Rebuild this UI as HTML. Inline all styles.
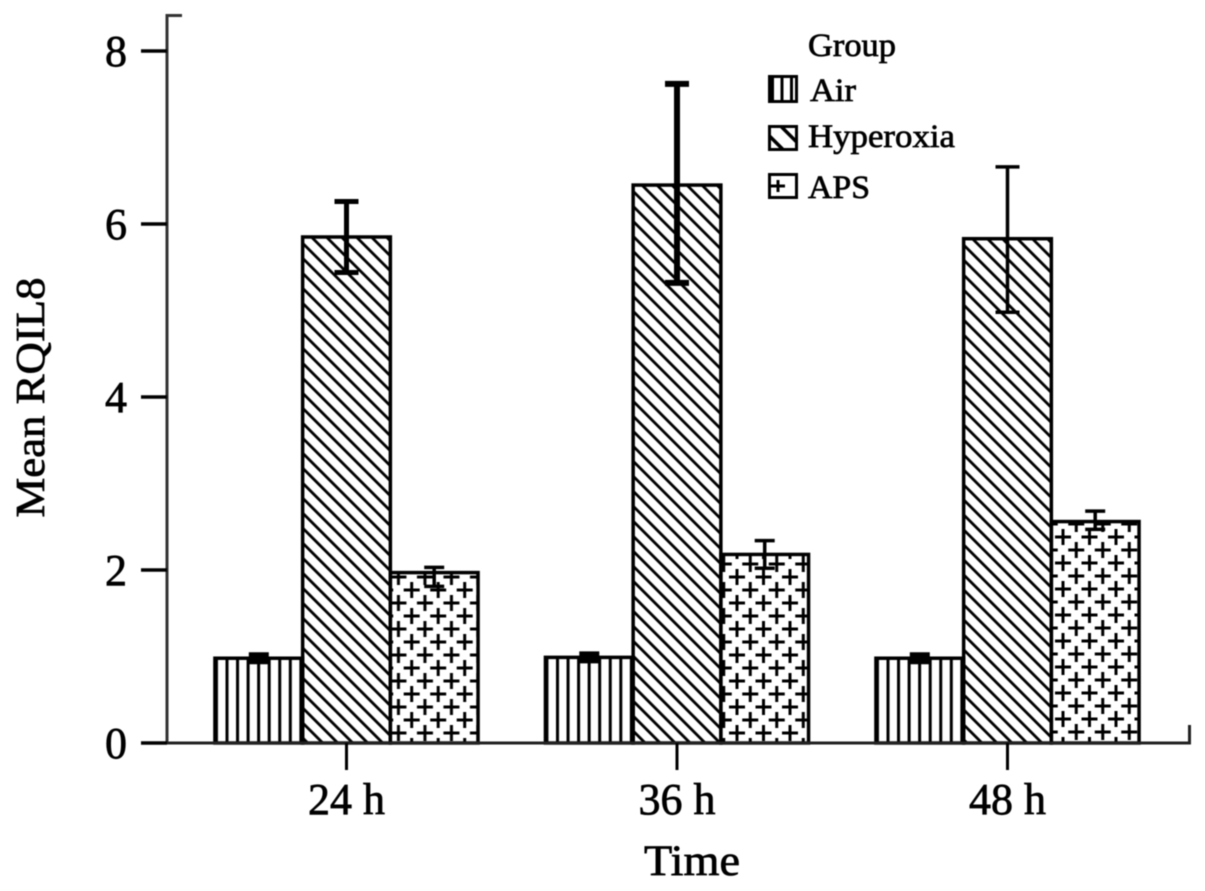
<!DOCTYPE html>
<html>
<head>
<meta charset="utf-8">
<title>Mean RQIL8 by time and group</title>
<style>
html,body{margin:0;padding:0;background:#fff;width:1205px;height:891px;overflow:hidden}
svg{display:block;filter:blur(0.4px)}
text{font-family:"Liberation Serif",serif;fill:#000;stroke:#000;stroke-width:0.7px}
</style>
</head>
<body>
<svg id="chart" width="1205" height="891" viewBox="0 0 1205 891" xmlns="http://www.w3.org/2000/svg">
  <defs id="defs">
    <pattern id="legend-lines" patternUnits="userSpaceOnUse" x="768" y="0" width="9.5" height="10">
      <rect x="3" width="3" height="10" fill="#000"></rect>
    </pattern>
    <pattern id="legend-diag" patternUnits="userSpaceOnUse" width="15" height="15" patternTransform="translate(768 125) rotate(45)">
      <rect y="5" width="15" height="3.5" fill="#000"></rect>
    </pattern>
  </defs>
  <rect width="1205" height="891" fill="#fff"></rect>
  <g id="bars"></g>
  <g id="errors"></g>
  <g id="axes"></g>
  <text transform="translate(44 397.5) rotate(-90)" text-anchor="middle" font-size="41" textLength="240" lengthAdjust="spacingAndGlyphs">Mean RQIL8</text>
  <text x="692" y="875" text-anchor="middle" font-size="43" textLength="96" lengthAdjust="spacingAndGlyphs">Time</text>
  <g>
    <text x="808" y="56" font-size="33" textLength="88" lengthAdjust="spacingAndGlyphs">Group</text>
    <g>
      <rect x="769.5" y="76.5" width="27" height="25" fill="url(#legend-lines)" stroke="#000" stroke-width="3"></rect>
      <text x="810" y="101" font-size="33" textLength="46" lengthAdjust="spacingAndGlyphs">Air</text>
    </g>
    <g>
      <rect x="769.5" y="126.5" width="27" height="23" fill="url(#legend-diag)" stroke="#000" stroke-width="3"></rect>
      <text x="808" y="147" font-size="33" textLength="147" lengthAdjust="spacingAndGlyphs">Hyperoxia</text>
    </g>
    <g>
      <rect x="769.5" y="174.5" width="27" height="23" fill="#fff" stroke="#000" stroke-width="3"></rect>
      <path d="M771 186H785M778 180V192" stroke="#000" stroke-width="3" fill="none"></path>
      <text x="808" y="198" font-size="33" textLength="62" lengthAdjust="spacingAndGlyphs">APS</text>
    </g>
  </g>
</svg>
<script>
const categories = ["24 h", "36 h", "48 h"];
const yTickValues = [0, 2, 4, 6, 8];
const airValues = [0.98, 0.99, 0.98];
const hyperoxiaValues = [5.85, 6.45, 5.83];
const apsValues = [1.97, 2.18, 2.56];
const airErrUpper = [0.04, 0.04, 0.04];
const airErrLower = [0.04, 0.04, 0.04];
const hyperoxiaErrUpper = [0.41, 1.17, 0.83];
const hyperoxiaErrLower = [0.41, 1.13, 0.85];
const apsErrUpper = [0.06, 0.16, 0.12];
const apsErrLower = [0.16, 0.16, 0.09];

const NS = 'http://www.w3.org/2000/svg';
const BASE_Y = 743, UNIT = 86.5;
const FIRST_CENTER = 346.5, GROUP_STEP = 330.5, BAR_W = 87.7;
function yScale(v) { return BASE_Y - v * UNIT; }
function xCenter(i) { return FIRST_CENTER + i * GROUP_STEP; }
function barLeft(i, s) { return xCenter(i) + (s - 1.5) * BAR_W; }
function make(tag, attrs, parent) {
  const e = document.createElementNS(NS, tag);
  for (const k in attrs) e.setAttribute(k, attrs[k]);
  parent.appendChild(e);
  return e;
}
const defs = document.getElementById('defs');
const barsG = document.getElementById('bars');
const errG = document.getElementById('errors');
const axesG = document.getElementById('axes');

/* hatch phase per group, purely visual */
const crossPhase = [[411.7, 590], [737, 577], [1063, 537]];
const hyperStroke = [5, 6, 3.5];

function linesPattern(id, left) {
  const p = make('pattern', {id: id, patternUnits: 'userSpaceOnUse', width: 10.55, height: 20, patternTransform: 'translate(' + left + ' 0)'}, defs);
  make('rect', {x: 0, y: 0, width: 3, height: 20, fill: '#000'}, p);
}
function diagPattern(id, left, top) {
  const p = make('pattern', {id: id, patternUnits: 'userSpaceOnUse', width: 10.6, height: 10.6, patternTransform: 'translate(' + left + ' ' + top + ') rotate(45)'}, defs);
  make('rect', {x: 0, y: 3, width: 10.6, height: 2.8, fill: '#000'}, p);
}
function crossPattern(id, px, py) {
  const p = make('pattern', {id: id, patternUnits: 'userSpaceOnUse', width: 26.5, height: 26, patternTransform: 'translate(' + (px - 9) + ' ' + (py - 9) + ')'}, defs);
  make('path', {d: 'M1 9H17M9 1V17', stroke: '#000', 'stroke-width': 3, fill: 'none'}, p);
  make('path', {d: 'M14.25 22H30.25M22.25 14V30M-12.25 22H3.75M22.25 -12V4', stroke: '#000', 'stroke-width': 3, fill: 'none'}, p);
}
function drawBar(i, s, value, fill, label) {
  const x = barLeft(i, s), y = yScale(value);
  const r = make('rect', {x: x, y: y, width: BAR_W, height: BASE_Y - y, fill: fill, stroke: '#000', 'stroke-width': 3.5}, barsG);
  
  
}
function drawErr(i, s, value, up, low, sw, capHalf, label) {
  const x = barLeft(i, s) + BAR_W / 2;
  const top = yScale(value + up), bot = yScale(value - low);
  const p = make('path', {d: 'M' + (x - capHalf) + ' ' + top + 'H' + (x + capHalf) + 'M' + x + ' ' + top + 'V' + bot + 'M' + (x - capHalf) + ' ' + bot + 'H' + (x + capHalf), stroke: '#000', 'stroke-width': sw, fill: 'none'}, errG);
  
  
}
categories.forEach(function (c, i) {
  linesPattern('lines-' + i, barLeft(i, 0));
  diagPattern('diag-' + i, barLeft(i, 1), yScale(hyperoxiaValues[i]));
  crossPattern('cross-' + i, crossPhase[i][0], crossPhase[i][1]);
  drawBar(i, 0, airValues[i], 'url(#lines-' + i + ')', 'air');
  drawBar(i, 1, hyperoxiaValues[i], 'url(#diag-' + i + ')', 'hyperoxia');
  drawBar(i, 2, apsValues[i], 'url(#cross-' + i + ')', 'aps');
  drawErr(i, 0, airValues[i], airErrUpper[i], airErrLower[i], 5, 10, 'air');
  drawErr(i, 1, hyperoxiaValues[i], hyperoxiaErrUpper[i], hyperoxiaErrLower[i], hyperStroke[i], 12, 'hyperoxia');
  drawErr(i, 2, apsValues[i], apsErrUpper[i], apsErrLower[i], 3.5, 10, 'aps');
});

const yLine = make('path', {d: 'M182 15.5H167V' + BASE_Y, stroke: '#333', 'stroke-width': 3, fill: 'none'}, axesG);


const xLine = make('path', {d: 'M141 ' + BASE_Y + 'H1189.5V725', stroke: '#222', 'stroke-width': 3, fill: 'none'}, axesG);



yTickValues.forEach(function (v) {
  const y = yScale(v);
  const t = make('path', {d: 'M141 ' + y + 'H167', stroke: '#000', 'stroke-width': 3.5, fill: 'none'}, axesG);
  
  
  const l = make('text', {x: 127, y: y + 15, 'text-anchor': 'end', 'font-size': 44}, axesG);
  l.textContent = String(v);
  
  
});
categories.forEach(function (c, i) {
  const x = xCenter(i);
  const t = make('path', {d: 'M' + x + ' ' + BASE_Y + 'V770', stroke: '#000', 'stroke-width': 3, fill: 'none'}, axesG);
  
  
  const l = make('text', {x: x, y: 814, 'text-anchor': 'middle', 'font-size': 44}, axesG);
  l.textContent = c;
  
  
});
</script>
</body>
</html>
